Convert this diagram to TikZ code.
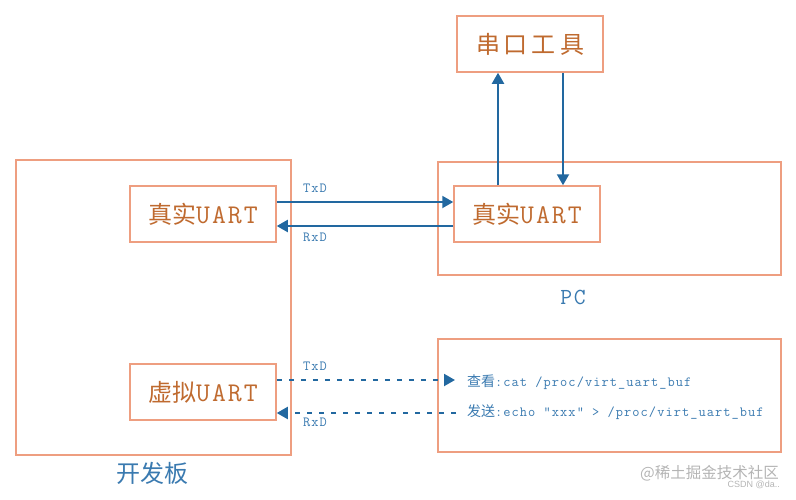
\documentclass[tikz,border=0pt]{standalone}
\usepackage{fontspec}
\usetikzlibrary{arrows.meta,calc}
\newfontfamily\cjk{Noto Sans CJK SC}
\newfontfamily\mono{Latin Modern Mono}[LetterSpace=7.5]
\newfontfamily\wmsans{Liberation Sans}
\definecolor{boxline}{HTML}{EE9E80}
\definecolor{boxtext}{HTML}{BF6A2F}
\definecolor{arrblue}{HTML}{2268A0}
\definecolor{lblblue}{HTML}{3A7AB0}
\definecolor{wmgray}{HTML}{B4B4B4}
\newcommand{\uartword}{{\mono\fontsize{27}{27}\selectfont UART}}
\tikzset{
  frame/.style={draw=boxline, line width=1.5pt, inner sep=0pt},
  uartbox/.style={frame, minimum width=146pt, minimum height=56pt, text=boxtext, font=\fontsize{24}{24}\selectfont},
  arr/.style={draw=arrblue, line width=2pt, -{Triangle[length=11pt,width=12pt]}},
  darr/.style={arr, dash pattern=on 5pt off 7pt},
  sig/.style={text=lblblue, font=\mono\fontsize{14}{14}\selectfont},
  cmdline/.style={anchor=west, text=lblblue, inner sep=0pt, font=\fontsize{14}{14}\selectfont},
}
\begin{document}
\begin{tikzpicture}[x=1pt,y=-1pt]
\useasboundingbox (0,0) rectangle (796,499);
% containers
\node[frame, minimum width=275pt, minimum height=295pt] (board) at (153.5,307.5) {};
\node[frame, minimum width=343pt, minimum height=113pt] (pc) at (609.5,218.5) {};
\node[frame, minimum width=343pt, minimum height=113pt] (vbox) at (609.5,395.5) {};
% boxes
\node[uartbox] (L) at (203,214) {{\cjk 真实}\uartword};
\node[uartbox] (V) at (203,392) {{\cjk 虚拟}\uartword};
\node[uartbox] (R) at (527,214) {{\cjk 真实}\uartword};
\node[uartbox] (T) at (530,44) {\cjk 串\,口\,工\,具};
% labels
\node[text=lblblue, font=\mono\fontsize{23}{23}\selectfont] (pclbl) at (573,297) {PC};
\node[text=lblblue, font=\cjk\fontsize{24}{24}\selectfont] (boardlbl) at (152,473) {开发板};
% command lines
\node[cmdline] (l1) at (467,382) {{\cjk 查看}\mono:cat /proc/virt\_uart\_buf};
\node[cmdline] (l2) at (467,412) {{\cjk 发送}\mono:echo "xxx" > /proc/virt\_uart\_buf};
% real arrows
\draw[arr] ([yshift=12pt]L.east) -- ([yshift=12pt]R.west);
\draw[arr] ([yshift=-12pt]R.west) -- ([yshift=-12pt]L.east);
\node[sig] (tx1) at (315,188) {TxD};
\node[sig] (rx1) at (315,237) {RxD};
\draw[arr] ([xshift=-29pt]R.north) -- ([xshift=-29pt]R.north |- T.south);
\draw[arr] ([xshift=36pt]R.north |- T.south) -- ([xshift=36pt]R.north);
% virtual arrows
\coordinate (vtend) at ([xshift=-12pt]l1.west);
\coordinate (vrstart) at ([xshift=-11pt,yshift=-1pt]l2.west);
\draw[darr] ([yshift=12pt]V.east) -- ([yshift=12pt]V.east -| vtend);
\draw[darr] (vrstart) -- (vrstart -| V.east);
\node[sig] (tx2) at (315,366) {TxD};
\node[sig] (rx2) at (315,422) {RxD};
% watermark
\node[text=wmgray, font=\cjk\fontsize{15.5}{15.5}\selectfont, anchor=east, inner sep=0pt] (wm1) at (779,473) {@稀土掘金技术社区};
\node[text=wmgray, font=\wmsans\fontsize{9}{9}\selectfont, anchor=east, inner sep=0pt] (wm2) at (780,485) {CSDN @da..};
\end{tikzpicture}
\end{document}
